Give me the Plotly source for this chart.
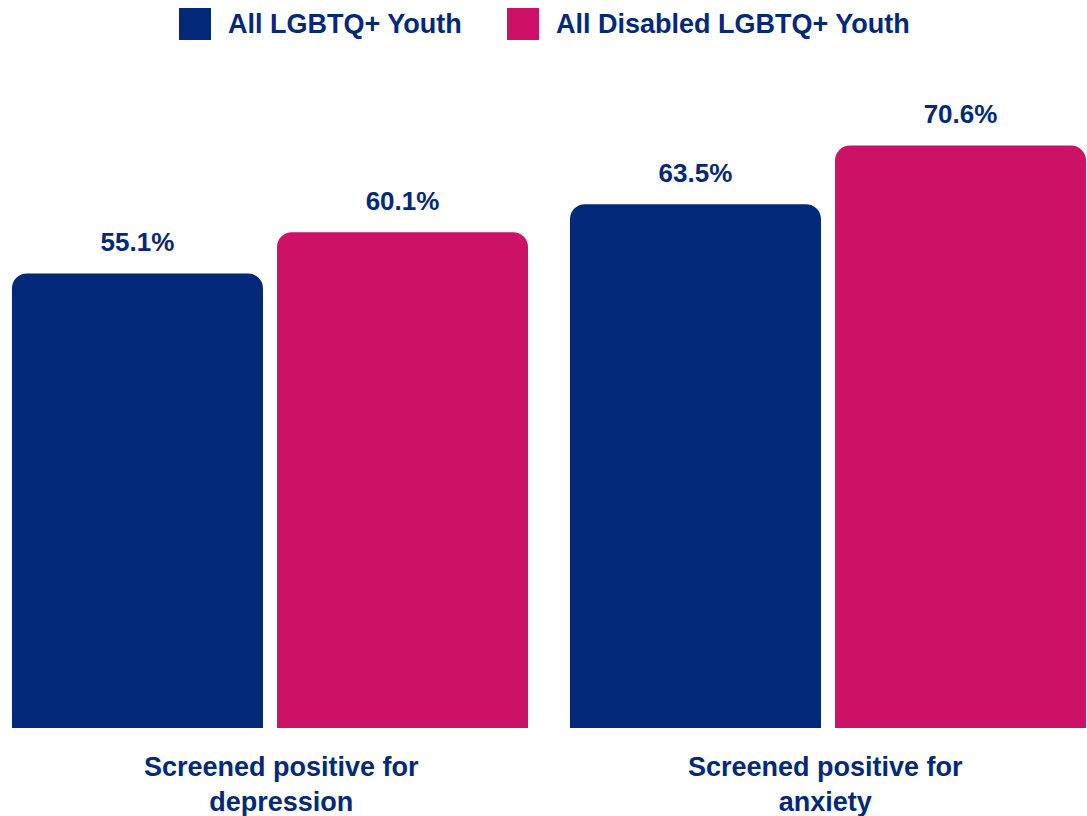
import plotly.graph_objects as go

categories = ["Screened positive for<br>depression", "Screened positive for<br>anxiety"]
series_names = ["All LGBTQ+ Youth", "All Disabled LGBTQ+ Youth"]
all_youth = [55.1, 63.5]
disabled_youth = [60.1, 70.6]

NAVY = "#02287a"
PINK = "#cc1166"
FONT = "Liberation Sans, Arial, Helvetica, sans-serif"

W, H = 1087, 816
ML, MR, MT, MB = 0, 0, 80, 816 - 728
PW, PH = W - ML - MR, H - MT - MB

fig = go.Figure()
for name, vals, col in [(series_names[0], all_youth, NAVY), (series_names[1], disabled_youth, PINK)]:
    fig.add_trace(go.Bar(x=categories, y=vals, name=name, marker_color=col,
                         marker_line_width=0, offsetgroup=name, showlegend=False,
                         hoverinfo="skip"))
for name, vals in [(series_names[0], all_youth), (series_names[1], disabled_youth)]:
    fig.add_trace(go.Scatter(x=categories, y=vals, mode="markers+text",
                             text=[f"{v:.1f}%" for v in vals], textposition="top center",
                             textfont=dict(family=FONT, size=26, color=NAVY, weight="bold"),
                             marker=dict(size=24, opacity=0), offsetgroup=name,
                             showlegend=False, hoverinfo="skip", cliponaxis=False))

def px_x(x):
    return (x - ML) / PW

def px_y(y):
    return (H - MB - y) / PH

shapes = []
annotations = []
legend_items = [(series_names[0], NAVY, 179), (series_names[1], PINK, 507)]
for name, col, x0 in legend_items:
    shapes.append(dict(type="rect", xref="paper", yref="paper",
                       x0=px_x(x0), x1=px_x(x0 + 32), y0=px_y(40), y1=px_y(8),
                       fillcolor=col, line=dict(width=0)))
    annotations.append(dict(text=name, xref="paper", yref="paper", x=px_x(x0 + 47),
                            y=px_y(24), xanchor="left", yanchor="middle", showarrow=False,
                            font=dict(family=FONT, size=27, color=NAVY, weight="bold")))

# category labels below the bars
label_shift = [11, -3]
for cat, dx in zip(categories, label_shift):
    annotations.append(dict(text=cat, xref="x", yref="y", x=cat, y=0,
                            xanchor="center", yanchor="top", yshift=-22, xshift=dx,
                            showarrow=False, align="center",
                            font=dict(family=FONT, size=27, color=NAVY, weight="bold")))

x_scale = 558.0
r0 = -270.0 / x_scale
fig.update_layout(
    width=W, height=H,
    margin=dict(l=ML, r=MR, t=MT, b=MB),
    paper_bgcolor="white", plot_bgcolor="white",
    barmode="group", bargap=0.05, bargroupgap=0.053, barcornerradius=15,
    scattermode="group", scattergap=0.05,
    shapes=shapes, annotations=annotations,
    xaxis=dict(type="category", range=[r0, r0 + PW / x_scale], showgrid=False,
               zeroline=False, showline=False, showticklabels=False, automargin=False),
    yaxis=dict(range=[0, PH / 8.25], visible=False, showgrid=False, zeroline=False,
               automargin=False),
    showlegend=False,
    hovermode=False,
)

fig.write_html("out.html", config={"displayModeBar": False},
               post_script="document.body.style.margin='0';document.body.style.overflow='hidden';")
